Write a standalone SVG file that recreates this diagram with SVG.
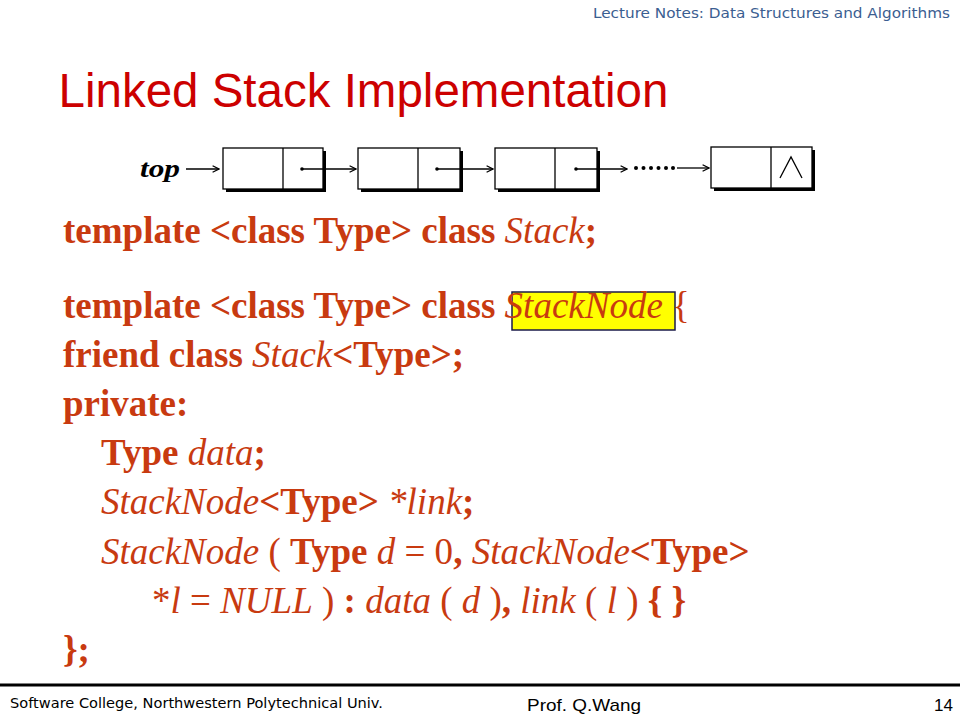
<svg xmlns="http://www.w3.org/2000/svg" width="960" height="720" viewBox="0 0 960 720">
<defs>
<style>
.code{font-family:"Liberation Serif","Times New Roman",serif;font-size:37px;fill:#C83A10;white-space:pre}
.b{font-weight:bold}
.i{font-style:italic}
.box{fill:#fff;stroke:#000;stroke-width:1.3}
.sh{fill:#000}
.ln{stroke:#000;stroke-width:1.3;fill:none}
.hdr{font-family:"DejaVu Sans",sans-serif;font-size:14px;fill:#3B5E91}
.ftr{font-family:"DejaVu Sans",sans-serif;font-size:14px;fill:#000}
.ftr2{font-family:"Liberation Sans",Arial,sans-serif;font-size:17px;fill:#000}
</style>
<marker id="arr" viewBox="0 0 10 10" refX="9" refY="5" markerWidth="8" markerHeight="8" markerUnits="userSpaceOnUse" orient="auto">
<path d="M1,1 L9,5 L1,9" fill="none" stroke="#000" stroke-width="1.6"/>
</marker>
</defs>
<rect width="960" height="720" fill="#fff"/>

<text id="header" class="hdr" x="593" y="18" textLength="357" lengthAdjust="spacingAndGlyphs">Lecture Notes: Data Structures and Algorithms</text>

<text id="title" x="58.5" y="107" font-family="Liberation Sans,Arial,sans-serif" font-size="47.5" fill="#CC0000">Linked Stack Implementation</text>

<g id="list">
<text x="140" y="177" font-family="Liberation Serif,serif" font-weight="bold" font-style="italic" font-size="25" textLength="40" lengthAdjust="spacingAndGlyphs">top</text>
<g id="node1">
<rect class="sh" x="226" y="151" width="100" height="41"/>
<rect class="box" x="223" y="148" width="100" height="41"/>
<line class="ln" x1="283" y1="148" x2="283" y2="189"/>
<circle cx="302" cy="169" r="1.8"/>
</g>
<g id="node2">
<rect class="sh" x="361" y="151" width="102" height="41"/>
<rect class="box" x="358" y="148" width="102" height="41"/>
<line class="ln" x1="418" y1="148" x2="418" y2="189"/>
<circle cx="437" cy="169" r="1.8"/>
</g>
<g id="node3">
<rect class="sh" x="498" y="151" width="102" height="41"/>
<rect class="box" x="495" y="148" width="102" height="41"/>
<line class="ln" x1="555" y1="148" x2="555" y2="189"/>
<circle cx="576" cy="169" r="1.8"/>
</g>
<g id="node4">
<rect class="sh" x="714" y="150" width="101" height="41"/>
<rect class="box" x="711" y="147" width="101" height="41"/>
<line class="ln" x1="771" y1="147" x2="771" y2="188"/>
<polyline class="ln" points="780,178 791,157 802,178"/>
</g>
<g id="connectors">
<line class="ln" x1="186" y1="169" x2="219" y2="169" marker-end="url(#arr)"/>
<line class="ln" x1="302" y1="169" x2="356" y2="169" marker-end="url(#arr)"/>
<line class="ln" x1="437" y1="169" x2="493" y2="169" marker-end="url(#arr)"/>
<line class="ln" x1="576" y1="169" x2="627" y2="169" marker-end="url(#arr)"/>
<line class="ln" x1="677" y1="168" x2="709" y2="168" marker-end="url(#arr)"/>
<g fill="#000">
<circle cx="636" cy="168" r="2"/>
<circle cx="643.5" cy="168" r="2"/>
<circle cx="651" cy="168" r="2"/>
<circle cx="658.5" cy="168" r="2"/>
<circle cx="666" cy="168" r="2"/>
<circle cx="673" cy="168" r="2"/>
</g>
</g>
</g>

<rect id="highlight" x="512" y="292" width="163" height="38" fill="#FFFF00" stroke="#1A1A4A" stroke-width="1.5"/>

<g id="code">
<text class="code" x="63" y="243"><tspan class="b">template &lt;class Type&gt; class </tspan><tspan class="i">Stack</tspan><tspan class="b">;</tspan></text>
<text class="code" x="63" y="318"><tspan class="b">template &lt;class Type&gt; class </tspan><tspan class="i">StackNode </tspan><tspan>{</tspan></text>
<text class="code" x="63" y="367"><tspan class="b">friend class </tspan><tspan class="i">Stack</tspan><tspan class="b">&lt;Type&gt;;</tspan></text>
<text class="code" x="63" y="416"><tspan class="b">private:</tspan></text>
<text class="code" x="101" y="465"><tspan class="b">Type </tspan><tspan class="i">data</tspan><tspan class="b">;</tspan></text>
<text class="code" x="101" y="514"><tspan class="i">StackNode</tspan><tspan class="b">&lt;Type&gt; </tspan><tspan class="i">*link</tspan><tspan class="b">;</tspan></text>
<text class="code" x="101" y="564"><tspan class="i">StackNode</tspan><tspan> ( </tspan><tspan class="b">Type </tspan><tspan class="i">d</tspan><tspan> = 0</tspan><tspan class="b">, </tspan><tspan class="i">StackNode</tspan><tspan class="b">&lt;Type&gt;</tspan></text>
<text class="code" x="152" y="613"><tspan>*</tspan><tspan class="i">l</tspan><tspan> = </tspan><tspan class="i">NULL</tspan><tspan> ) </tspan><tspan class="b">: </tspan><tspan class="i">data</tspan><tspan> ( </tspan><tspan class="i">d</tspan><tspan> )</tspan><tspan class="b">, </tspan><tspan class="i">link</tspan><tspan> ( </tspan><tspan class="i">l</tspan><tspan> ) </tspan><tspan class="b">{ }</tspan></text>
<text class="code" x="63" y="662"><tspan class="b">};</tspan></text>
</g>

<g id="footer">
<line x1="0" y1="685" x2="960" y2="685" stroke="#000" stroke-width="3"/>
<text class="ftr" x="10" y="708" textLength="373" lengthAdjust="spacingAndGlyphs">Software College, Northwestern Polytechnical Univ.</text>
<text class="ftr2" x="527" y="711" textLength="114" lengthAdjust="spacingAndGlyphs">Prof. Q.Wang</text>
<text class="ftr2" x="934" y="711">14</text>
</g>
</svg>
